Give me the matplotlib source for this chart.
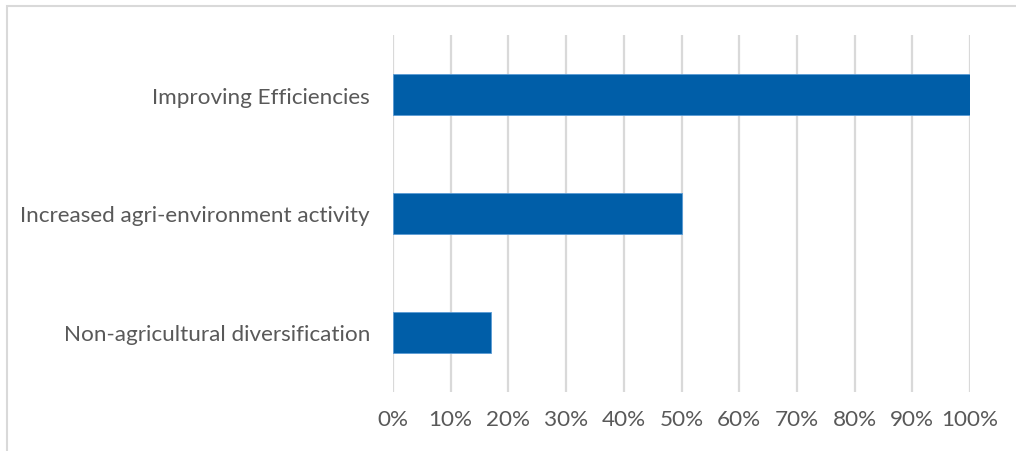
import matplotlib
matplotlib.use("Agg")
import matplotlib.pyplot as plt
from matplotlib.patches import Rectangle
from matplotlib.ticker import MultipleLocator, PercentFormatter

categories = ["Improving Efficiencies",
              "Increased agri-environment activity",
              "Non-agricultural diversification"]
shares = [100, 50, 17]

W, H = 1016, 452
fig = plt.figure(figsize=(W / 100, H / 100), dpi=100)
plt.rcParams['font.family'] = ['Lato', 'DejaVu Sans']

ax = fig.add_axes([393 / W, 1 - 393 / H, (970 - 393) / W, (393 - 36) / H])
ypos = list(range(len(categories)))
ax.barh(ypos, shares, height=0.345, color="#005EA8", edgecolor="#5B9BD5",
        linewidth=0.6, zorder=3)
ax.set_ylim(len(categories) - 0.5, -0.5)
ax.set_yticks(ypos)
ax.set_yticklabels(categories)
ax.set_xlim(0, 100)
ax.xaxis.set_major_locator(MultipleLocator(10))
ax.xaxis.set_major_formatter(PercentFormatter(decimals=0))
ax.grid(axis="x", color="#D9D9D9", linewidth=1.6, zorder=0)
for s in ax.spines.values():
    s.set_visible(False)
ax.tick_params(axis="both", length=0, labelsize=16.2, labelcolor="#595959")
ax.tick_params(axis="y", pad=16.5)
ax.tick_params(axis="x", pad=12)

# light outer frame
fig.patches.append(Rectangle((7 / W, -0.1), 1.2, 1 - 7 / H + 0.1,
                             transform=fig.transFigure, fill=False,
                             edgecolor="#D9D9D9", linewidth=1.5))

fig.savefig("out.png", dpi=100)
